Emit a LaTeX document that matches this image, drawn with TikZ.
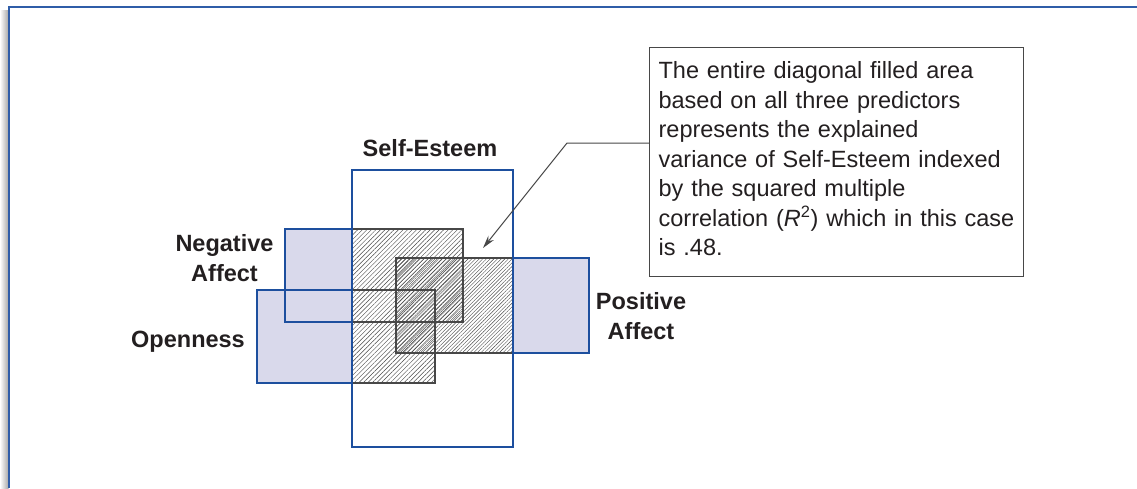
\documentclass[tikz,border=0pt]{standalone}
\usepackage{fontspec}
\setmainfont{Liberation Sans}
\usetikzlibrary{arrows.meta,patterns.meta}
\definecolor{frameBlue}{HTML}{2F5DA8}
\definecolor{boxBlue}{HTML}{1D4F9E}
\definecolor{lavenderFill}{HTML}{D9D9EB}
\definecolor{hatchGray}{HTML}{474747}
\definecolor{inkBlack}{HTML}{231F20}

\begin{document}
\begin{tikzpicture}[x=1pt,y=-1pt,>={Stealth[length=13pt,width=7pt]},
  lbl/.style={font=\fontsize{23.5}{29.5}\selectfont\bfseries,text=inkBlack,align=center,inner sep=0pt}]
  \useasboundingbox (0,0) rectangle (1137,488);
  % page frame
  \shade[left color=white,right color=black!35] (0,10) rectangle (8.5,488);
  \draw[frameBlue,line width=1.3pt] (9,488) -- (9,7) -- (1137,7);
  \coordinate (SE1) at (352,170);
  \coordinate (SE2) at (513,447);
  \coordinate (NA1) at (285,229);
  \coordinate (NA2) at (463,322);
  \coordinate (OP1) at (257,290);
  \coordinate (OP2) at (435,383);
  \coordinate (PA1) at (396,258);
  \coordinate (PA2) at (589,353);
  \fill[lavenderFill] (NA1) rectangle (NA2) (OP1) rectangle (OP2) (PA1) rectangle (PA2);
  \draw[boxBlue,line width=2.4pt] (NA1) rectangle (NA2) (OP1) rectangle (OP2) (PA1) rectangle (PA2);
  \fill[white] (SE1) rectangle (SE2);
  \begin{scope}
    \clip (SE1) rectangle (SE2);
    \fill[pattern={Lines[angle=45,distance=3.2pt,line width=.45pt]},pattern color=hatchGray]
      (NA1) rectangle (NA2) (OP1) rectangle (OP2);
    \fill[pattern={Lines[angle=45,distance=2.6pt,line width=.4pt]},pattern color=hatchGray]
      (PA1) rectangle (PA2);
    \draw[hatchGray,line width=1.6pt] (NA1) rectangle (NA2) (OP1) rectangle (OP2) (PA1) rectangle (PA2);
  \end{scope}
  \draw[boxBlue,line width=2.6pt] (SE1) rectangle (SE2);
  \node[lbl,anchor=base] (seLabel) at (430,156) {Self-Esteem};
  \node[lbl,anchor=base] (naLabel) at (224.5,281) {Negative\\Affect};
  \node[lbl,anchor=base] (opLabel) at (188,347) {Openness};
  \node[lbl,anchor=base] (paLabel) at (641,339) {Positive\\Affect};
  \node[draw=hatchGray,line width=1.2pt,anchor=north west,inner xsep=9pt,inner ysep=14pt,
    text width=356pt,align=left,font=\fontsize{23.5}{29.5}\selectfont,text=inkBlack] (callout)
    at (649,47) {The entire diagonal filled area\\
    based on all three predictors\\
    represents the explained\\
    variance of Self-Esteem indexed\\
    by the squared multiple\\
    correlation (\textit{R}\textsuperscript{2}) which in this case\\
    is .48.\rule[-7pt]{0pt}{1pt}};
  \coordinate (knee) at (567,143);
  \coordinate (tip) at (483,248);
  \draw[->,hatchGray,line width=1pt] (callout.west |- knee) -- (knee) -- (tip);
\end{tikzpicture}
\end{document}
